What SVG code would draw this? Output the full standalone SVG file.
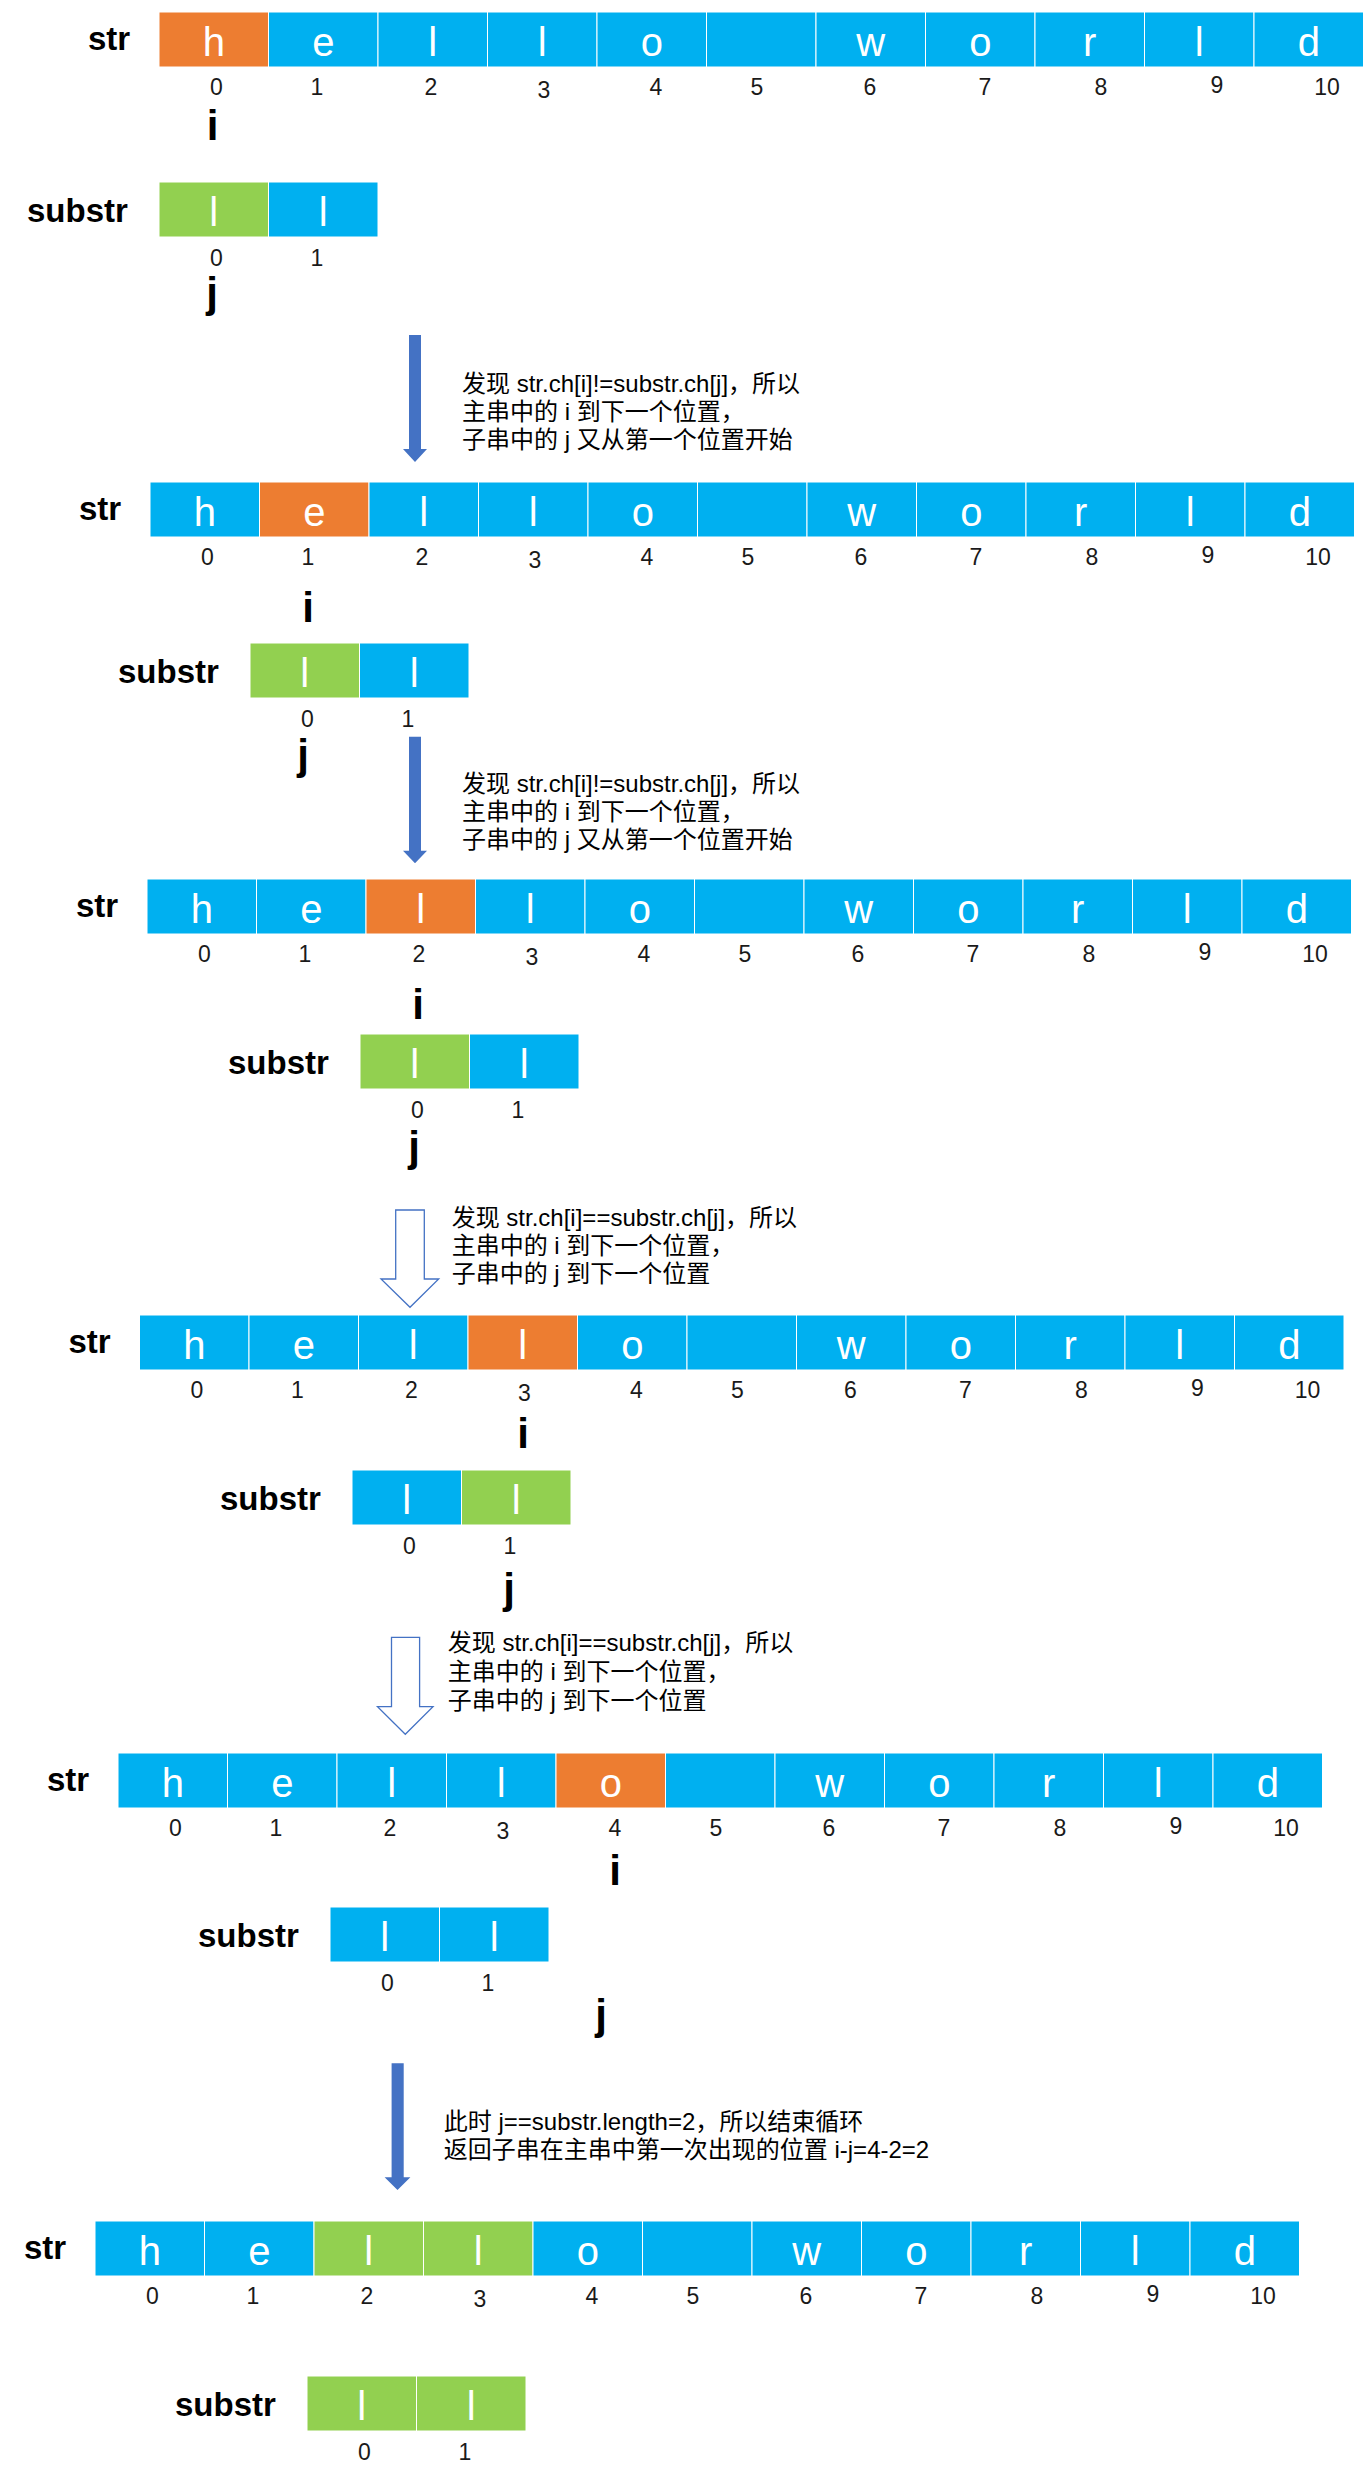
<svg xmlns="http://www.w3.org/2000/svg" width="1369" height="2481" viewBox="0 0 1369 2481">
<style>
.cb{fill:#00B0F0;stroke:#fff;stroke-width:1}
.co{fill:#ED7D31;stroke:#fff;stroke-width:1}
.cg{fill:#92D050;stroke:#fff;stroke-width:1}
.ch{font-family:"Liberation Sans",Arial,sans-serif;font-size:40px;fill:#fff;text-anchor:middle}
.ix{font-family:"Liberation Sans",Arial,sans-serif;font-size:23px;fill:#1a1a1a;text-anchor:middle}
.lb{font-family:"Liberation Sans",Arial,sans-serif;font-size:33px;font-weight:bold;fill:#000}
.ij{font-family:"Liberation Sans",Arial,sans-serif;font-size:42px;font-weight:bold;fill:#000;text-anchor:middle}
.cn{font-family:"Liberation Sans","Noto Sans CJK SC",sans-serif;font-size:24px;fill:#000}
.af{fill:#4472C4}
.ao{fill:#fff;stroke:#4472C4;stroke-width:1.3}
</style>
<rect width="1369" height="2481" fill="#fff"/>

<g id="row1" transform="translate(159,12)">
<text class="lb" x="-71" y="38">str</text>
<rect class="co" x="0" y="0" width="109.5" height="55"/>
<rect class="cb" x="109.5" y="0" width="109.5" height="55"/>
<rect class="cb" x="219" y="0" width="109.5" height="55"/>
<rect class="cb" x="328.5" y="0" width="109.5" height="55"/>
<rect class="cb" x="438" y="0" width="109.5" height="55"/>
<rect class="cb" x="547.5" y="0" width="109.5" height="55"/>
<rect class="cb" x="657" y="0" width="109.5" height="55"/>
<rect class="cb" x="766.5" y="0" width="109.5" height="55"/>
<rect class="cb" x="876" y="0" width="109.5" height="55"/>
<rect class="cb" x="985.5" y="0" width="109.5" height="55"/>
<rect class="cb" x="1095" y="0" width="109.5" height="55"/>
<text class="ch" x="54.75" y="44">h</text><text class="ch" x="164.25" y="44">e</text><text class="ch" x="273.75" y="44">l</text><text class="ch" x="383.25" y="44">l</text><text class="ch" x="492.75" y="44">o</text><text class="ch" x="711.75" y="44">w</text><text class="ch" x="821.25" y="44">o</text><text class="ch" x="930.75" y="44">r</text><text class="ch" x="1040.25" y="44">l</text><text class="ch" x="1149.75" y="44">d</text>
<text class="ix" x="57.5" y="83.3">0</text><text class="ix" x="158" y="83.3">1</text><text class="ix" x="272" y="83.3">2</text><text class="ix" x="385" y="85.8">3</text><text class="ix" x="497" y="83.3">4</text><text class="ix" x="598" y="83.3">5</text><text class="ix" x="711" y="83.3">6</text><text class="ix" x="826" y="83.3">7</text><text class="ix" x="942" y="83.3">8</text><text class="ix" x="1058" y="81.3">9</text><text class="ix" x="1168" y="83.3">10</text>
</g>
<g id="sub1" transform="translate(159,182)">
<text class="lb" x="-132" y="39.7">substr</text>
<rect class="cg" x="0" y="0" width="109.5" height="55"/>
<rect class="cb" x="109.5" y="0" width="109.5" height="55"/>
<text class="ch" x="54.75" y="44">l</text><text class="ch" x="164.25" y="44">l</text>
<text class="ix" x="57.5" y="83.7">0</text><text class="ix" x="158" y="83.7">1</text>
</g>
<g id="ptr1"><text class="ij" x="212.5" y="139.5">i</text><text class="ij" x="212" y="307.3">j</text></g>

<g id="row2" transform="translate(150,482)">
<text class="lb" x="-71" y="38">str</text>
<rect class="cb" x="0" y="0" width="109.5" height="55"/>
<rect class="co" x="109.5" y="0" width="109.5" height="55"/>
<rect class="cb" x="219" y="0" width="109.5" height="55"/>
<rect class="cb" x="328.5" y="0" width="109.5" height="55"/>
<rect class="cb" x="438" y="0" width="109.5" height="55"/>
<rect class="cb" x="547.5" y="0" width="109.5" height="55"/>
<rect class="cb" x="657" y="0" width="109.5" height="55"/>
<rect class="cb" x="766.5" y="0" width="109.5" height="55"/>
<rect class="cb" x="876" y="0" width="109.5" height="55"/>
<rect class="cb" x="985.5" y="0" width="109.5" height="55"/>
<rect class="cb" x="1095" y="0" width="109.5" height="55"/>
<text class="ch" x="54.75" y="44">h</text><text class="ch" x="164.25" y="44">e</text><text class="ch" x="273.75" y="44">l</text><text class="ch" x="383.25" y="44">l</text><text class="ch" x="492.75" y="44">o</text><text class="ch" x="711.75" y="44">w</text><text class="ch" x="821.25" y="44">o</text><text class="ch" x="930.75" y="44">r</text><text class="ch" x="1040.25" y="44">l</text><text class="ch" x="1149.75" y="44">d</text>
<text class="ix" x="57.5" y="83.3">0</text><text class="ix" x="158" y="83.3">1</text><text class="ix" x="272" y="83.3">2</text><text class="ix" x="385" y="85.8">3</text><text class="ix" x="497" y="83.3">4</text><text class="ix" x="598" y="83.3">5</text><text class="ix" x="711" y="83.3">6</text><text class="ix" x="826" y="83.3">7</text><text class="ix" x="942" y="83.3">8</text><text class="ix" x="1058" y="81.3">9</text><text class="ix" x="1168" y="83.3">10</text>
</g>
<g id="sub2" transform="translate(250,643)">
<text class="lb" x="-132" y="39.7">substr</text>
<rect class="cg" x="0" y="0" width="109.5" height="55"/>
<rect class="cb" x="109.5" y="0" width="109.5" height="55"/>
<text class="ch" x="54.75" y="44">l</text><text class="ch" x="164.25" y="44">l</text>
<text class="ix" x="57.5" y="83.7">0</text><text class="ix" x="158" y="83.7">1</text>
</g>
<g id="ptr2"><text class="ij" x="308" y="622">i</text><text class="ij" x="303" y="769">j</text></g>

<g id="row3" transform="translate(147,879)">
<text class="lb" x="-71" y="38">str</text>
<rect class="cb" x="0" y="0" width="109.5" height="55"/>
<rect class="cb" x="109.5" y="0" width="109.5" height="55"/>
<rect class="co" x="219" y="0" width="109.5" height="55"/>
<rect class="cb" x="328.5" y="0" width="109.5" height="55"/>
<rect class="cb" x="438" y="0" width="109.5" height="55"/>
<rect class="cb" x="547.5" y="0" width="109.5" height="55"/>
<rect class="cb" x="657" y="0" width="109.5" height="55"/>
<rect class="cb" x="766.5" y="0" width="109.5" height="55"/>
<rect class="cb" x="876" y="0" width="109.5" height="55"/>
<rect class="cb" x="985.5" y="0" width="109.5" height="55"/>
<rect class="cb" x="1095" y="0" width="109.5" height="55"/>
<text class="ch" x="54.75" y="44">h</text><text class="ch" x="164.25" y="44">e</text><text class="ch" x="273.75" y="44">l</text><text class="ch" x="383.25" y="44">l</text><text class="ch" x="492.75" y="44">o</text><text class="ch" x="711.75" y="44">w</text><text class="ch" x="821.25" y="44">o</text><text class="ch" x="930.75" y="44">r</text><text class="ch" x="1040.25" y="44">l</text><text class="ch" x="1149.75" y="44">d</text>
<text class="ix" x="57.5" y="83.3">0</text><text class="ix" x="158" y="83.3">1</text><text class="ix" x="272" y="83.3">2</text><text class="ix" x="385" y="85.8">3</text><text class="ix" x="497" y="83.3">4</text><text class="ix" x="598" y="83.3">5</text><text class="ix" x="711" y="83.3">6</text><text class="ix" x="826" y="83.3">7</text><text class="ix" x="942" y="83.3">8</text><text class="ix" x="1058" y="81.3">9</text><text class="ix" x="1168" y="83.3">10</text>
</g>
<g id="sub3" transform="translate(360,1034)">
<text class="lb" x="-132" y="39.7">substr</text>
<rect class="cg" x="0" y="0" width="109.5" height="55"/>
<rect class="cb" x="109.5" y="0" width="109.5" height="55"/>
<text class="ch" x="54.75" y="44">l</text><text class="ch" x="164.25" y="44">l</text>
<text class="ix" x="57.5" y="83.7">0</text><text class="ix" x="158" y="83.7">1</text>
</g>
<g id="ptr3"><text class="ij" x="418" y="1018.5">i</text><text class="ij" x="414" y="1160.6">j</text></g>

<g id="row4" transform="translate(139.5,1315)">
<text class="lb" x="-71" y="38">str</text>
<rect class="cb" x="0" y="0" width="109.5" height="55"/>
<rect class="cb" x="109.5" y="0" width="109.5" height="55"/>
<rect class="cb" x="219" y="0" width="109.5" height="55"/>
<rect class="co" x="328.5" y="0" width="109.5" height="55"/>
<rect class="cb" x="438" y="0" width="109.5" height="55"/>
<rect class="cb" x="547.5" y="0" width="109.5" height="55"/>
<rect class="cb" x="657" y="0" width="109.5" height="55"/>
<rect class="cb" x="766.5" y="0" width="109.5" height="55"/>
<rect class="cb" x="876" y="0" width="109.5" height="55"/>
<rect class="cb" x="985.5" y="0" width="109.5" height="55"/>
<rect class="cb" x="1095" y="0" width="109.5" height="55"/>
<text class="ch" x="54.75" y="44">h</text><text class="ch" x="164.25" y="44">e</text><text class="ch" x="273.75" y="44">l</text><text class="ch" x="383.25" y="44">l</text><text class="ch" x="492.75" y="44">o</text><text class="ch" x="711.75" y="44">w</text><text class="ch" x="821.25" y="44">o</text><text class="ch" x="930.75" y="44">r</text><text class="ch" x="1040.25" y="44">l</text><text class="ch" x="1149.75" y="44">d</text>
<text class="ix" x="57.5" y="83.3">0</text><text class="ix" x="158" y="83.3">1</text><text class="ix" x="272" y="83.3">2</text><text class="ix" x="385" y="85.8">3</text><text class="ix" x="497" y="83.3">4</text><text class="ix" x="598" y="83.3">5</text><text class="ix" x="711" y="83.3">6</text><text class="ix" x="826" y="83.3">7</text><text class="ix" x="942" y="83.3">8</text><text class="ix" x="1058" y="81.3">9</text><text class="ix" x="1168" y="83.3">10</text>
</g>
<g id="sub4" transform="translate(352,1470)">
<text class="lb" x="-132" y="39.7">substr</text>
<rect class="cb" x="0" y="0" width="109.5" height="55"/>
<rect class="cg" x="109.5" y="0" width="109.5" height="55"/>
<text class="ch" x="54.75" y="44">l</text><text class="ch" x="164.25" y="44">l</text>
<text class="ix" x="57.5" y="83.7">0</text><text class="ix" x="158" y="83.7">1</text>
</g>
<g id="ptr4"><text class="ij" x="523" y="1448">i</text><text class="ij" x="509" y="1603.3">j</text></g>

<g id="row5" transform="translate(118,1753)">
<text class="lb" x="-71" y="38">str</text>
<rect class="cb" x="0" y="0" width="109.5" height="55"/>
<rect class="cb" x="109.5" y="0" width="109.5" height="55"/>
<rect class="cb" x="219" y="0" width="109.5" height="55"/>
<rect class="cb" x="328.5" y="0" width="109.5" height="55"/>
<rect class="co" x="438" y="0" width="109.5" height="55"/>
<rect class="cb" x="547.5" y="0" width="109.5" height="55"/>
<rect class="cb" x="657" y="0" width="109.5" height="55"/>
<rect class="cb" x="766.5" y="0" width="109.5" height="55"/>
<rect class="cb" x="876" y="0" width="109.5" height="55"/>
<rect class="cb" x="985.5" y="0" width="109.5" height="55"/>
<rect class="cb" x="1095" y="0" width="109.5" height="55"/>
<text class="ch" x="54.75" y="44">h</text><text class="ch" x="164.25" y="44">e</text><text class="ch" x="273.75" y="44">l</text><text class="ch" x="383.25" y="44">l</text><text class="ch" x="492.75" y="44">o</text><text class="ch" x="711.75" y="44">w</text><text class="ch" x="821.25" y="44">o</text><text class="ch" x="930.75" y="44">r</text><text class="ch" x="1040.25" y="44">l</text><text class="ch" x="1149.75" y="44">d</text>
<text class="ix" x="57.5" y="83.3">0</text><text class="ix" x="158" y="83.3">1</text><text class="ix" x="272" y="83.3">2</text><text class="ix" x="385" y="85.8">3</text><text class="ix" x="497" y="83.3">4</text><text class="ix" x="598" y="83.3">5</text><text class="ix" x="711" y="83.3">6</text><text class="ix" x="826" y="83.3">7</text><text class="ix" x="942" y="83.3">8</text><text class="ix" x="1058" y="81.3">9</text><text class="ix" x="1168" y="83.3">10</text>
</g>
<g id="sub5" transform="translate(330,1907)">
<text class="lb" x="-132" y="39.7">substr</text>
<rect class="cb" x="0" y="0" width="109.5" height="55"/>
<rect class="cb" x="109.5" y="0" width="109.5" height="55"/>
<text class="ch" x="54.75" y="44">l</text><text class="ch" x="164.25" y="44">l</text>
<text class="ix" x="57.5" y="83.7">0</text><text class="ix" x="158" y="83.7">1</text>
</g>
<g id="ptr5"><text class="ij" x="615" y="1885">i</text><text class="ij" x="601" y="2028.6">j</text></g>

<g id="row6" transform="translate(95,2221)">
<text class="lb" x="-71" y="38">str</text>
<rect class="cb" x="0" y="0" width="109.5" height="55"/>
<rect class="cb" x="109.5" y="0" width="109.5" height="55"/>
<rect class="cg" x="219" y="0" width="109.5" height="55"/>
<rect class="cg" x="328.5" y="0" width="109.5" height="55"/>
<rect class="cb" x="438" y="0" width="109.5" height="55"/>
<rect class="cb" x="547.5" y="0" width="109.5" height="55"/>
<rect class="cb" x="657" y="0" width="109.5" height="55"/>
<rect class="cb" x="766.5" y="0" width="109.5" height="55"/>
<rect class="cb" x="876" y="0" width="109.5" height="55"/>
<rect class="cb" x="985.5" y="0" width="109.5" height="55"/>
<rect class="cb" x="1095" y="0" width="109.5" height="55"/>
<text class="ch" x="54.75" y="44">h</text><text class="ch" x="164.25" y="44">e</text><text class="ch" x="273.75" y="44">l</text><text class="ch" x="383.25" y="44">l</text><text class="ch" x="492.75" y="44">o</text><text class="ch" x="711.75" y="44">w</text><text class="ch" x="821.25" y="44">o</text><text class="ch" x="930.75" y="44">r</text><text class="ch" x="1040.25" y="44">l</text><text class="ch" x="1149.75" y="44">d</text>
<text class="ix" x="57.5" y="83.3">0</text><text class="ix" x="158" y="83.3">1</text><text class="ix" x="272" y="83.3">2</text><text class="ix" x="385" y="85.8">3</text><text class="ix" x="497" y="83.3">4</text><text class="ix" x="598" y="83.3">5</text><text class="ix" x="711" y="83.3">6</text><text class="ix" x="826" y="83.3">7</text><text class="ix" x="942" y="83.3">8</text><text class="ix" x="1058" y="81.3">9</text><text class="ix" x="1168" y="83.3">10</text>
</g>
<g id="sub6" transform="translate(307,2376)">
<text class="lb" x="-132" y="39.7">substr</text>
<rect class="cg" x="0" y="0" width="109.5" height="55"/>
<rect class="cg" x="109.5" y="0" width="109.5" height="55"/>
<text class="ch" x="54.75" y="44">l</text><text class="ch" x="164.25" y="44">l</text>
<text class="ix" x="57.5" y="83.7">0</text><text class="ix" x="158" y="83.7">1</text>
</g>

<g id="connectors">
<path class="af" d="M409,335 H421 V449 H427 L415,462 L403,449 H409 Z"/>
<path class="af" d="M409,736.7 H421 V850.7 H427 L415,863.3 L403,850.7 H409 Z"/>
<path class="ao" d="M395.7,1210 H424.3 V1279 H438.7 L410,1307.3 L381,1279 H395.7 Z"/>
<path class="ao" d="M391.5,1637.3 H419.6 V1706.7 H433 L405.3,1734.3 L377.5,1706.7 H391.5 Z"/>
<path class="af" d="M391.6,2063.3 H403.7 V2177.3 H410.4 L397.5,2190 L384.6,2177.3 H391.6 Z"/>
</g>

<g id="note1" class="cn">
<text x="462" y="391.7">发现 str.ch[i]!=substr.ch[j]，所以</text>
<text x="462" y="420">主串中的 i 到下一个位置，</text>
<text x="462" y="448.3">子串中的 j 又从第一个位置开始</text>
</g>
<g id="note2" class="cn">
<text x="462" y="791.7">发现 str.ch[i]!=substr.ch[j]，所以</text>
<text x="462" y="820">主串中的 i 到下一个位置，</text>
<text x="462" y="848.3">子串中的 j 又从第一个位置开始</text>
</g>
<g id="note3" class="cn">
<text x="451.7" y="1226">发现 str.ch[i]==substr.ch[j]，所以</text>
<text x="451.7" y="1254">主串中的 i 到下一个位置，</text>
<text x="451.7" y="1282">子串中的 j 到下一个位置</text>
</g>
<g id="note4" class="cn">
<text x="447.8" y="1651">发现 str.ch[i]==substr.ch[j]，所以</text>
<text x="447.8" y="1680">主串中的 i 到下一个位置，</text>
<text x="447.8" y="1709">子串中的 j 到下一个位置</text>
</g>
<g id="note5" class="cn">
<text x="443.8" y="2130">此时 j==substr.length=2，所以结束循环</text>
<text x="443.8" y="2158.3">返回子串在主串中第一次出现的位置 i-j=4-2=2</text>
</g>
</svg>
